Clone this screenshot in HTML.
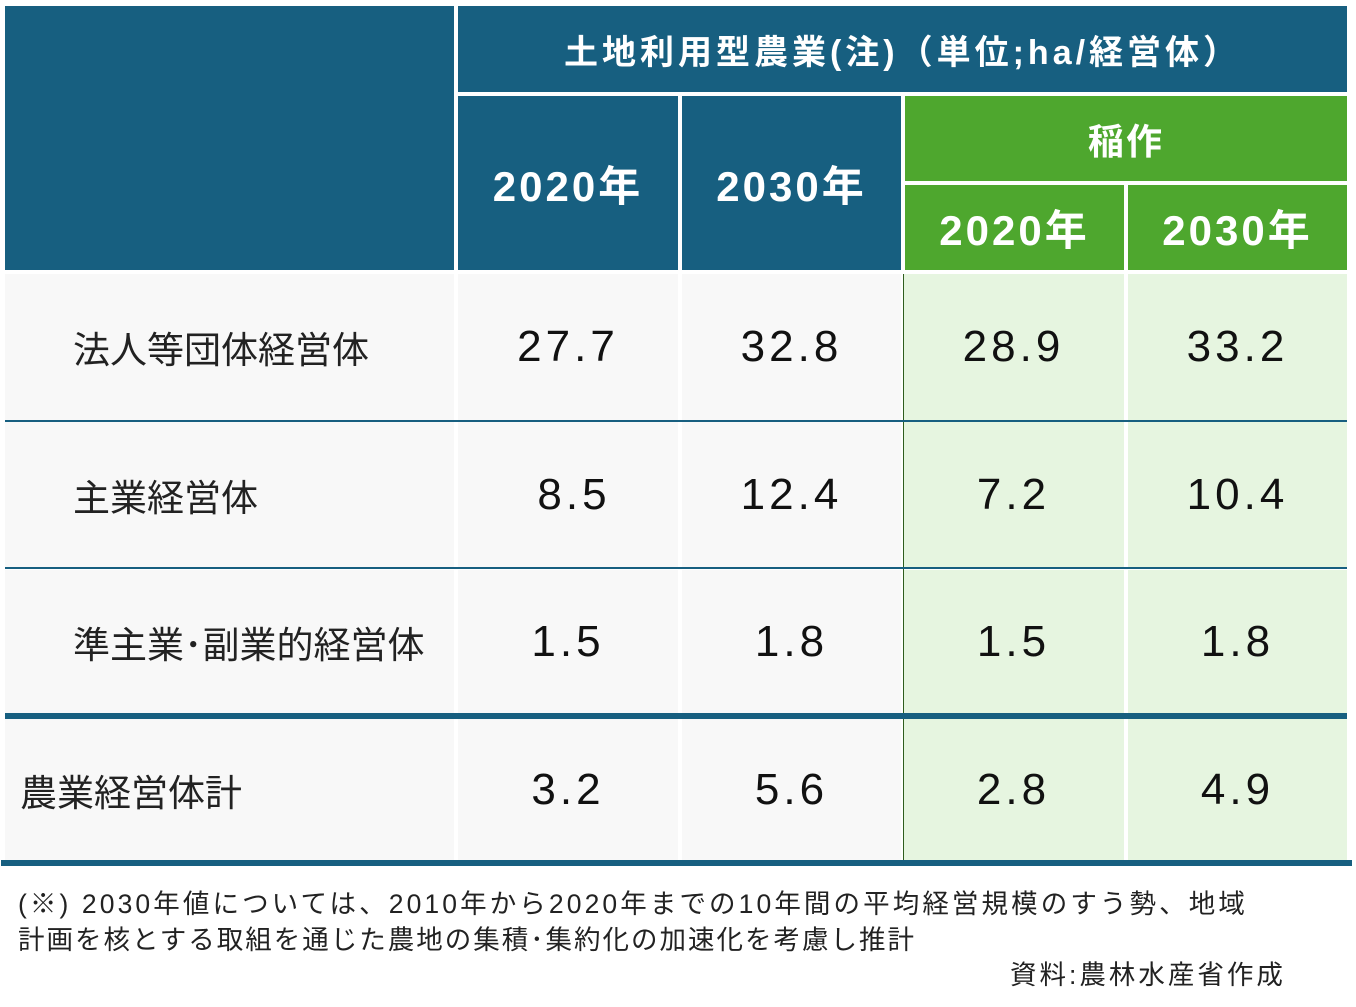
<!DOCTYPE html>
<html><head><meta charset="utf-8"><style>
body{margin:0;width:1356px;height:1007px;background:#fff;position:relative;overflow:hidden;font-family:"Liberation Sans","Noto Sans CJK JP",sans-serif}
.c{position:absolute;display:flex;align-items:center;justify-content:center;box-sizing:border-box;white-space:nowrap}
.b{background:#175f80;color:#fff}
.g{background:#4ea72e;color:#fff}
.w{background:#f8f8f8;color:#111}
.l{background:#e6f5e0;color:#111}
.h{font-size:42px;letter-spacing:3px;font-weight:bold}
.v{font-size:44px;letter-spacing:4px}
.lab{justify-content:flex-start;padding-left:68px;font-size:37px;color:#222;letter-spacing:0}
.ln{position:absolute;background:#175f80}
</style></head><body>
<div class="c b" style="left:5px;top:6px;width:449px;height:264px"></div>
<div class="c b" style="left:458px;top:6px;width:889px;height:86px;font-size:34px;font-weight:bold;letter-spacing:4px">土地利用型農業(注)（単位;ha/経営体）</div>
<div class="c b h" style="left:458px;top:96px;width:220px;height:174px">2020年</div>
<div class="c b h" style="left:682px;top:96px;width:219px;height:174px">2030年</div>
<div class="c g" style="left:905px;top:96px;width:442px;height:85px;font-size:36px;font-weight:bold;letter-spacing:2px">稲作</div>
<div class="c g h" style="left:905px;top:185px;width:219px;height:85px">2020年</div>
<div class="c g h" style="left:1128px;top:185px;width:219px;height:85px">2030年</div>

<div class="c w lab" style="left:5px;top:274px;width:449px;height:146px">法人等団体経営体</div>
<div class="c w v" style="left:458px;top:274px;width:220px;height:146px">27.7</div>
<div class="c w v" style="left:682px;top:274px;width:219px;height:146px">32.8</div>
<div class="c l v" style="left:903px;top:274px;width:221px;height:146px">28.9</div>
<div class="c l v" style="left:1128px;top:274px;width:219px;height:146px">33.2</div>

<div class="c w lab" style="left:5px;top:422px;width:449px;height:146px">主業経営体</div>
<div class="c w v" style="left:458px;top:422px;width:220px;height:146px;padding-left:12px">8.5</div>
<div class="c w v" style="left:682px;top:422px;width:219px;height:146px">12.4</div>
<div class="c l v" style="left:903px;top:422px;width:221px;height:146px">7.2</div>
<div class="c l v" style="left:1128px;top:422px;width:219px;height:146px">10.4</div>

<div class="c w lab" style="left:5px;top:570px;width:449px;height:144px">準主業･副業的経営体</div>
<div class="c w v" style="left:458px;top:570px;width:220px;height:144px">1.5</div>
<div class="c w v" style="left:682px;top:570px;width:219px;height:144px">1.8</div>
<div class="c l v" style="left:903px;top:570px;width:221px;height:144px">1.5</div>
<div class="c l v" style="left:1128px;top:570px;width:219px;height:144px">1.8</div>

<div class="c w lab" style="left:5px;top:718px;width:449px;height:143px;padding-left:15px">農業経営体計</div>
<div class="c w v" style="left:458px;top:718px;width:220px;height:143px">3.2</div>
<div class="c w v" style="left:682px;top:718px;width:219px;height:143px">5.6</div>
<div class="c l v" style="left:903px;top:718px;width:221px;height:143px">2.8</div>
<div class="c l v" style="left:1128px;top:718px;width:219px;height:143px">4.9</div>

<div style="position:absolute;left:903px;top:274px;width:1px;height:587px;background:#2f5d1e"></div>
<div class="ln" style="left:5px;top:420px;width:1342px;height:2px"></div>
<div class="ln" style="left:5px;top:567px;width:1342px;height:2px"></div>
<div class="ln" style="left:5px;top:713px;width:1342px;height:6px"></div>
<div class="ln" style="left:1px;top:860px;width:1351px;height:6px"></div>

<div style="position:absolute;left:18px;top:886px;font-size:26.5px;line-height:36px;color:#222;white-space:nowrap;letter-spacing:3.1px">(※) 2030年値については、2010年から2020年までの10年間の平均経営規模のすう勢、地域</div>
<div style="position:absolute;left:18px;top:922px;font-size:26.5px;line-height:36px;color:#222;white-space:nowrap;letter-spacing:2px">計画を核とする取組を通じた農地の集積･集約化の加速化を考慮し推計</div>
<div style="position:absolute;left:1010px;top:957px;font-size:26.5px;line-height:36px;color:#222;white-space:nowrap;letter-spacing:3px">資料:農林水産省作成</div>
</body></html>
